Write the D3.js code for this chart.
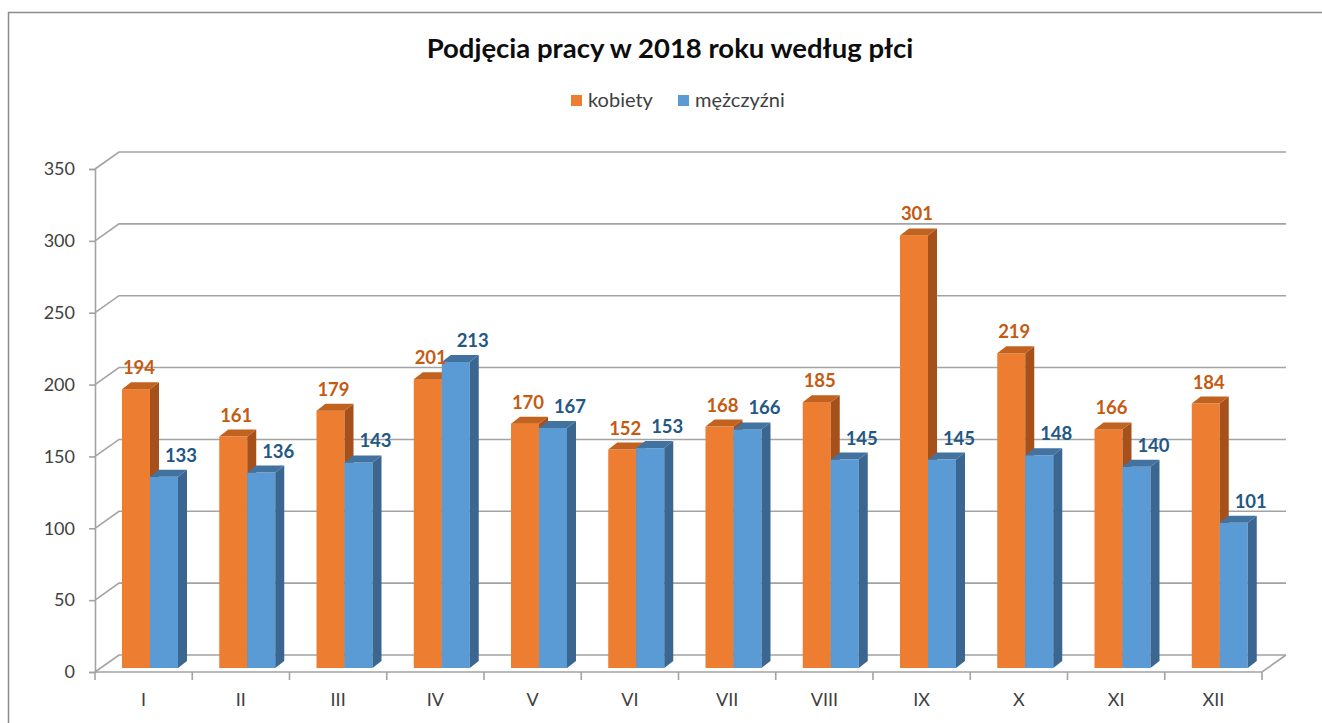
<!DOCTYPE html>
<html>
<head>
<meta charset="utf-8">
<script src="https://cdn.jsdelivr.net/npm/d3@7"></script>
<style>
  body { margin: 0; background: #fff; }
  svg { display: block; font-family: Lato, "Open Sans", sans-serif; }
</style>
</head>
<body>
<svg id="chart" width="1322" height="723"></svg>
<script>
const months = ["I", "II", "III", "IV", "V", "VI", "VII", "VIII", "IX", "X", "XI", "XII"];
const kobiety = [194, 161, 179, 201, 170, 152, 168, 185, 301, 219, 166, 184];
const mezczyzni = [133, 136, 143, 213, 167, 153, 166, 145, 145, 148, 140, 101];
const seriesNames = ["kobiety", "mężczyźni"];
const yTicks = [0, 50, 100, 150, 200, 250, 300, 350];
const title = "Podjęcia pracy w 2018 roku według płci";

(function(){
  const svg = d3.select("#chart");
  const W = 1322, H = 723;

  // 3d offsets
  const wallDx = 24, wallDy = -17;
  const barDx = 9, barDy = -7;

  const palette = {
    kobiety:   { front: "#ED7D31", side: "#A6511C", top: "#C2621F", label: "#C55A11" },
    "mężczyźni": { front: "#5B9BD5", side: "#3A6690", top: "#4272A0", label: "#235784" }
  };

  // frame
  svg.append("rect")
    .attr("x", 8.5).attr("y", 12.5)
    .attr("width", W).attr("height", H)
    .attr("fill", "none").attr("stroke", "#8C8C8C").attr("stroke-width", 1.5);

  // scales
  const x = d3.scaleBand().domain(months).range([95, 1262]);
  const xs = d3.scaleBand().domain(seriesNames).range([27, 83]);
  const y = d3.scaleLinear().domain([0, 350]).range([672, 169]);
  const yBar = d3.scaleLinear().domain([0, 350]).range([668, 165]);

  // back wall grid
  const grid = svg.append("g").attr("stroke", "#A3A3A3").attr("stroke-width", 1.6).attr("fill", "none");
  grid.selectAll("path.grid")
    .data(yTicks)
    .enter().append("path")
    .attr("class", "grid")
    .attr("d", d => `M${x.range()[0]},${y(d)} L${x.range()[0] + wallDx},${y(d) + wallDy} L${x.range()[1] + wallDx},${y(d) + wallDy}`);

  // floor
  grid.append("path")
    .attr("d", `M${x.range()[0]},${y(0)} L${x.range()[1]},${y(0)} L${x.range()[1] + wallDx},${y(0) + wallDy}`);

  // y axis
  const yAxis = d3.axisLeft(y).tickValues(yTicks).tickSize(6).tickPadding(14);
  const gy = svg.append("g")
    .attr("transform", `translate(${x.range()[0]},0)`)
    .call(yAxis);
  gy.select(".domain").attr("stroke", "#A3A3A3").attr("stroke-width", 1.6);
  gy.selectAll(".tick line").attr("stroke", "#A3A3A3").attr("stroke-width", 1.6);
  gy.selectAll(".tick text")
    .attr("font-family", "Lato, sans-serif")
    .attr("font-size", 18).attr("fill", "#404040");

  // x axis
  const xAxis = d3.axisBottom(x).tickSize(0).tickPadding(21);
  const gx = svg.append("g")
    .attr("transform", `translate(0,${y(0)})`)
    .call(xAxis);
  gx.select(".domain").remove();
  gx.selectAll(".tick text")
    .attr("font-family", "Lato, sans-serif")
    .attr("font-size", 18).attr("fill", "#404040");

  const bounds = months.map(m => x(m)).concat([x.range()[1]]);
  svg.append("g").selectAll("line")
    .data(bounds)
    .enter().append("line")
    .attr("x1", d => d).attr("x2", d => d)
    .attr("y1", y(0)).attr("y2", y(0) + 8)
    .attr("stroke", "#A3A3A3").attr("stroke-width", 1.6);

  // bars
  const rows = [];
  months.forEach((m, i) => {
    rows.push({ month: m, series: "kobiety", value: kobiety[i] });
    rows.push({ month: m, series: "mężczyźni", value: mezczyzni[i] });
  });

  const bw = xs.bandwidth();
  const bars = svg.append("g").selectAll("g.bar")
    .data(rows)
    .enter().append("g")
    .attr("class", "bar");

  bars.append("rect")
    .attr("x", d => x(d.month) + xs(d.series))
    .attr("y", d => yBar(d.value))
    .attr("width", bw)
    .attr("height", d => yBar(0) - yBar(d.value))
    .attr("fill", d => palette[d.series].front);

  bars.append("path")
    .attr("fill", d => palette[d.series].side)
    .attr("d", d => {
      const x0 = x(d.month) + xs(d.series) + bw, yt = yBar(d.value), yb = yBar(0);
      return `M${x0},${yt} L${x0 + barDx},${yt + barDy} L${x0 + barDx},${yb + barDy} L${x0},${yb} Z`;
    });

  bars.append("path")
    .attr("fill", d => palette[d.series].top)
    .attr("d", d => {
      const x0 = x(d.month) + xs(d.series), yt = yBar(d.value);
      return `M${x0},${yt} L${x0 + barDx},${yt + barDy} L${x0 + bw + barDx},${yt + barDy} L${x0 + bw},${yt} Z`;
    });

  // data labels
  svg.append("g").selectAll("text")
    .data(rows)
    .enter().append("text")
    .attr("x", d => x(d.month) + xs(d.series) + bw / 2 + (d.series === "kobiety" ? 3 : 17))
    .attr("y", d => yBar(d.value) - 15)
    .attr("text-anchor", "middle")
    .attr("font-family", "Lato, sans-serif")
    .attr("font-weight", "bold")
    .attr("font-size", 18.5)
    .attr("fill", d => palette[d.series].label)
    .text(d => d.value);

  // title
  svg.append("text")
    .attr("x", 670).attr("y", 58)
    .attr("text-anchor", "middle")
    .attr("font-family", "Lato, sans-serif")
    .attr("font-weight", "bold")
    .attr("font-size", 27.5)
    .attr("fill", "#0D0D0D")
    .text(title);

  // legend
  const legendX = [571, 678];
  const lg = svg.append("g").selectAll("g")
    .data(seriesNames)
    .enter().append("g")
    .attr("transform", (d, i) => `translate(${legendX[i]},95)`);
  lg.append("rect")
    .attr("width", 11).attr("height", 11)
    .attr("fill", d => palette[d].front);
  lg.append("text")
    .attr("x", 17).attr("y", 11.5)
    .attr("font-family", "Lato, sans-serif")
    .attr("font-size", 20)
    .attr("fill", "#404040")
    .text(d => d);
})();
</script>
</body>
</html>
